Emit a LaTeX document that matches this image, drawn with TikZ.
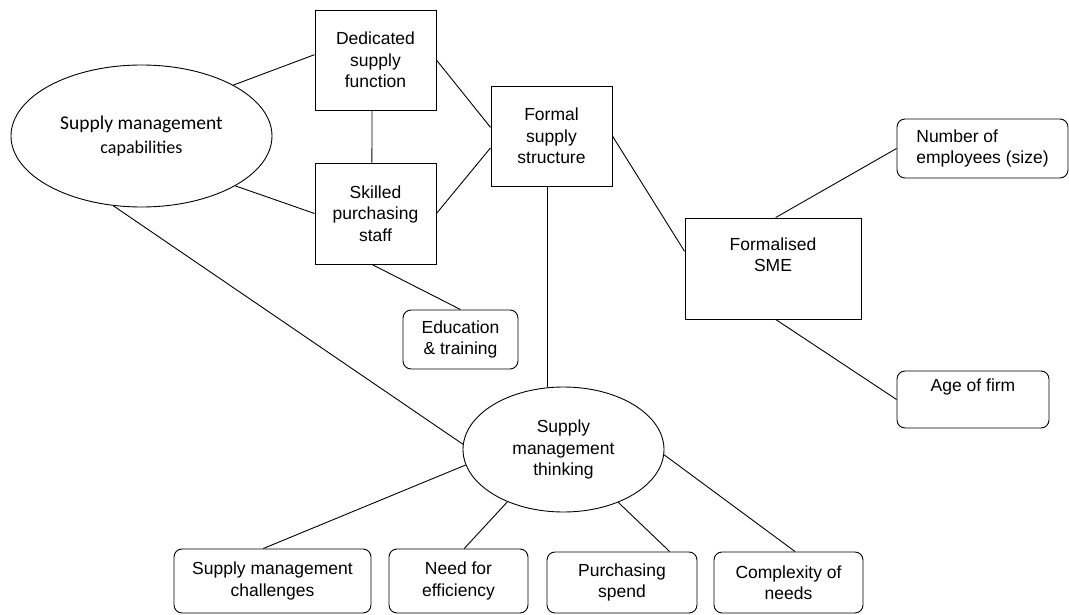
\documentclass[tikz,border=0pt]{standalone}
\usepackage{fontspec}
\setmainfont{Liberation Sans}
\newfontfamily\calfont{Carlito}
\usetikzlibrary{shapes,positioning}

\begin{document}
\begin{tikzpicture}[x=1pt, y=-1pt, line width=0.9pt,
    every node/.style={font=\fontsize{17.5}{21.5}\selectfont, align=center, inner sep=0pt},
    box/.style={draw, rectangle},
    rbox/.style={draw, rectangle, rounded corners=8pt},
    bubble/.style={draw, ellipse}]

            \useasboundingbox (0,0) rectangle (1069,615);

            \draw(141.5,136) node[bubble, minimum width=261, minimum height=142,
                font=\calfont\fontsize{19.5}{24}\selectfont] (smc) {Supply management\\{\fontsize{18}{24}\selectfont capabilities}};
            \draw(375.5,60) node[box, minimum width=121, minimum height=100] (ded) {Dedicated\\supply\\function};
            \draw(375.5,213.5) node[box, minimum width=121, minimum height=101] (skill) {Skilled\\purchasing\\staff};
            \draw(551.5,136) node[box, minimum width=121, minimum height=100] (formal) {Formal\\supply\\structure};
            \draw(773,268.5) node[box, minimum width=176, minimum height=101] (sme) {Formalised\\SME\\\strut};
            \draw(982.5,148.5) node[rbox, minimum width=171, minimum height=59, align=left] (nemp) {Number of\\employees (size)};
            \draw(973,399.5) node[rbox, minimum width=152, minimum height=57] (age) {Age of firm\\\strut};
            \draw(460.5,339.5) node[rbox, minimum width=115, minimum height=59] (edu) {Education\\\& training};
            \draw(563.5,449.5) node[bubble, minimum width=201, minimum height=125] (smt) {Supply\\management\\thinking};
            \draw(272.5,581) node[rbox, minimum width=197, minimum height=64] (chal) {Supply management\\challenges};
            \draw(458.5,581) node[rbox, minimum width=139, minimum height=64] (need) {Need for\\efficiency};
            \draw(622,582.5) node[rbox, minimum width=150, minimum height=61] (purch) {Purchasing\\spend};
            \draw(788.5,582.5) node[rbox, minimum width=149, minimum height=61] (cplx) {Complexity of\\needs};

            \draw (smc.29) -- (ded.175);
            \draw (smc.-28) -- (skill.west);
            \draw (ded.266) -- (skill.94);
            \draw (ded.east) -- (formal.172);
            \draw (skill.east) -- (formal.191);
            \draw (skill.266) -- (edu.north);
            \draw (formal.265) -- (formal.265 |- smt.north);
            \draw (formal.east) -- (sme.169);
            \draw (sme.87) -- (nemp.west);
            \draw (sme.273) -- (age.west);
            \draw (smc.248) -- (smt.177);
            \draw (smt.189) -- (chal.106);
            \draw (smt.223) -- (need.80);
            \draw (smt.-44) -- (purch.33);
            \draw (smt.-3) -- (cplx.78);

        \end{tikzpicture}
\end{document}
